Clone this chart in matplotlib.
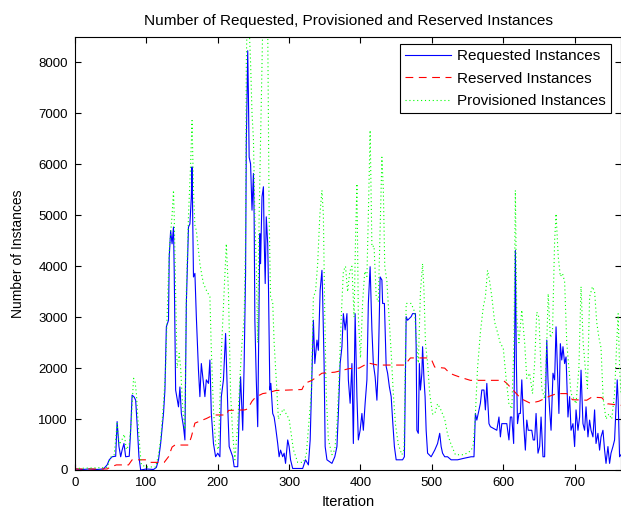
#!/usr/bin/env python3

import matplotlib
matplotlib.use('Agg')
import matplotlib.pyplot as plt

# values (iteration, instances)
req_iter = [0, 10, 20, 30, 40, 45, 48, 52, 57, 59, 61.6, 64, 66, 68.6, 71, 76, 78, 80, 83, 85, 87, 89.6, 92,
            100, 110, 114, 117, 120, 124, 126, 128, 131, 132, 134, 136, 138, 139, 141, 145, 147, 149, 152, 154,
            156, 159, 161, 163, 164, 166, 168, 170, 173, 175, 177, 180, 182, 184, 187, 189, 191, 194, 197, 200,
            203, 205, 208, 211, 214, 216, 221, 223, 228, 230, 232, 235, 237, 239, 240, 242, 243, 244, 246, 248,
            250, 251, 252, 254, 256, 257, 259, 260, 262, 264, 265, 266.5, 268, 270, 271, 273, 274.4, 277, 279,
            281, 284, 286, 288, 291, 293, 295, 298, 300, 302, 305, 319, 323, 327, 329.5, 332, 334, 336, 339, 341,
            343.5, 346, 347, 349, 350.5, 353, 360, 364, 367, 369, 371.5, 374, 376, 378.5, 381, 383, 385.5, 388,
            390, 392.5, 395, 397, 399.5, 402, 404, 406.5, 409, 411, 413.5, 416, 418, 420.5, 423, 425, 427.5, 430,
            431, 433.5, 436, 438, 440.5, 443, 445, 447.5, 450, 459, 461.5, 464, 466, 471, 473, 477, 478, 479, 481,
            482.5, 484, 486, 487, 489, 490.5, 492, 494, 499, 504, 508, 511, 513, 515, 518, 522, 527, 536, 545, 555,
            559, 561, 563, 568, 570, 573, 575, 577, 580, 582, 591, 594, 596, 598, 605, 608, 610, 612, 614.6, 616,
            617, 618.4, 620, 622, 624, 626, 628.6, 631, 633, 635, 640, 642, 644, 646, 648.7, 651, 653, 655.7, 658,
            660, 661, 662.7, 665, 667, 669.7, 672, 674, 676.7, 678, 680, 682, 683.7, 686, 688, 690.7, 693, 695,
            697.7, 700, 702, 704.7, 707, 709, 711.7, 714, 716, 718.7, 721, 723, 725.7, 728, 730, 732.7, 735, 737,
            739.7, 742, 744, 746.7, 749, 751, 753.7, 756, 758, 759.7, 761, 763, 765]
req_vals = [20, 10, 20, 10, 20, 100, 200, 260, 270, 950, 460, 260, 390, 520, 260, 270, 780, 1470, 1430, 1370, 910, 260, 0,
            20, 10, 50, 200, 520, 1110, 1570, 2810, 2940, 4180, 4700, 4440, 4770, 3920, 1570, 1240, 1630, 1110, 850, 590,
            3270, 4770, 4830, 5360, 5950, 3790, 3860, 3010, 1960, 1440, 2090, 1700, 1440, 1770, 1700, 2160, 1110, 520, 260, 330,
            260, 1440, 1770, 2680, 1240, 460, 260, 65, 65, 1110, 1830, 780, 2090, 3860, 6400, 8230, 7320, 6140, 6010, 5100,
            5820, 4970, 2940, 1770, 850, 2090, 4640, 4050, 5360, 5560, 4570, 3660, 4970, 4440, 3660, 1570, 1700, 1110, 1040,
            850, 520, 260, 390, 260, 330, 130, 590, 460, 200, 30, 30, 200, 100, 590, 1900, 2940, 2090, 2550, 2350,
            3530, 3920, 3400, 2090, 460, 200, 130, 260, 460, 1110, 2090, 2420, 3070, 2750, 3070, 1770, 1310, 2090,
            520, 3070, 1440, 590, 780, 1110, 780, 1310, 1770, 3270, 3990, 2750, 2090, 1830, 1370, 2090, 3790, 3730,
            3270, 3270, 2030, 1900, 1630, 1440, 980, 460, 200, 200, 260, 3010, 2940, 3010, 3070, 3070, 2420, 780, 720,
            2090, 1570, 1900, 2420, 1770, 1440, 780, 330, 260, 390, 520, 720, 460, 330, 260, 260, 200, 200, 230, 260,
            260, 1110, 980, 1310, 1570, 1570, 1180, 1700, 910, 850, 780, 1040, 650, 910, 910, 590, 1040, 1040, 520, 2480,
            4310, 2090, 910, 1110, 1110, 1770, 910, 390, 980, 780, 780, 590, 590, 1110, 330, 460, 1040, 260, 260,
            1900, 2550, 1770, 1180, 780, 1900, 1770, 2810, 1700, 1110, 2480, 2160, 2420, 2090, 2220, 1040, 1440, 780,
            910, 460, 1180, 780, 1040, 1960, 910, 780, 1240, 650, 980, 780, 650, 1180, 520, 720, 390, 650,
            780, 390, 130, 460, 130, 330, 460, 590, 1240, 1770, 1370, 260, 300]

res_iter = [0, 45, 50, 58, 75, 80, 100, 105, 125, 131, 136, 140, 159, 163, 168, 175, 184, 194, 212, 215, 238, 242,
            248, 253, 263, 272, 281, 318, 322, 332, 346, 364, 384, 398, 411, 424, 462, 470, 494, 500, 504, 518, 525,
            532, 540, 554, 600, 605, 615, 625, 638, 650, 665, 675, 689, 697, 717, 724, 738, 746, 765]
res_vals = [20, 20, 60, 100, 100, 200, 200, 150, 150, 260, 450, 490, 490, 650, 920, 960, 1010, 1080, 1080, 1170, 1180, 1200,
            1350, 1430, 1500, 1520, 1560, 1580, 1700, 1760, 1900, 1920, 1990, 2000, 2100, 2060, 2060, 2200, 2200, 2150, 2020, 2000, 1900,
            1860, 1820, 1760, 1760, 1700, 1550, 1400, 1310, 1350, 1450, 1500, 1500, 1380, 1370, 1430, 1420, 1300, 1270]

prov_iter = [0, 45, 50, 55, 59, 62, 66, 69, 72, 76, 79, 82, 84, 86, 89, 91, 93, 100, 113, 117, 120, 124, 127, 129, 132,
             136, 138, 139, 141, 143, 146, 148, 151, 154, 156, 159, 162, 164, 166, 168, 170, 173, 175, 178, 180, 184,
             189, 191, 194, 197, 201, 205, 209, 212, 215, 218, 221, 224, 228, 231, 234, 237, 239, 240, 241, 244, 246,
             248, 250, 252, 254, 256, 258, 260, 262, 263, 270, 272, 274, 277, 279, 282, 285, 288, 292, 296, 300, 303,
             306, 312, 320, 324, 328, 331, 334, 337, 340, 343, 346, 348, 350, 352, 355, 360, 364, 367, 370, 373, 376,
             379, 382, 385, 388, 391, 393, 395, 397, 400, 403, 406, 409, 411, 413.5, 416, 419, 422, 425, 428, 430, 432,
             434, 437, 440, 443, 446, 449, 453, 458, 461, 464, 468, 471, 476, 478, 481, 484, 487, 489, 491, 494, 497,
             501, 504, 508, 512, 515, 518, 522, 527, 533, 545, 555, 558, 561, 564, 568, 572, 575, 578, 581, 584, 588,
             592, 596, 600, 604, 608, 612, 615, 617, 619, 622, 626, 630, 633, 637, 641, 644, 647, 650, 654, 658, 661,
             663, 666, 669, 672, 674, 677, 680, 683, 686, 689, 692, 695, 699, 702, 706, 709, 712, 715, 718, 721, 725,
             728, 731, 734, 737, 740, 744, 748, 752, 756, 759, 761, 763, 765]
prov_vals = [30, 50, 250, 300, 910, 500, 600, 700, 400, 500, 1000, 1800, 1750, 1500, 800, 400, 100, 60, 60, 300, 600, 1300, 2000, 3000, 4300,
             5000, 5490, 5000, 3500, 2000, 2290, 2000, 1200, 800, 3500, 5000, 6000, 6860, 5500, 4800, 4700, 4300, 4050, 3800, 3660, 3530,
             3400, 2350, 1200, 500, 400, 2300, 3500, 4440, 3500, 1500, 700, 200, 900, 1800, 2500, 3000, 4500, 8000, 8700, 8700, 8000,
             7000, 6500, 5000, 4000, 2500, 5000, 6500, 8000, 8700, 8700, 5000, 3400, 3300, 2500, 1770, 1000, 1100, 1200, 1100, 1000, 700,
             400, 150, 150, 300, 1000, 1500, 3400, 3500, 4050, 5000, 5490, 5000, 3000, 1500, 600, 300, 400, 900, 1800, 3000, 3900,
             4000, 3500, 3900, 4000, 3000, 4500, 5620, 3000, 2200, 3300, 3900, 3800, 5000, 6670, 4380, 4400, 3400, 3300, 5000, 6140, 5500,
             4000, 3700, 3000, 2300, 1500, 900, 500, 300, 400, 3270, 3270, 3270, 3100, 2600, 2100, 3500, 4050, 3500, 2500, 2100, 1500,
             1100, 1100, 1300, 1200, 1100, 1000, 700, 500, 300, 300, 380, 500, 1100, 2000, 2700, 3200, 3400, 3920, 3700, 3400, 2900,
             2700, 2480, 2400, 1800, 1300, 1200, 2500, 5490, 3000, 2500, 3140, 2500, 1800, 1900, 1500, 2100, 3100, 3000, 1600, 1400, 2500,
             3460, 2600, 2700, 4500, 5030, 4200, 3800, 3860, 3700, 2500, 2000, 1500, 1400, 1300, 2000, 3600, 2500, 2000, 1600, 3400, 3600,
             3500, 2900, 2600, 2400, 1400, 1000, 1100, 1000, 1500, 2500, 3070, 2000, 1500]

x_ticks = [0, 100, 200, 300, 400, 500, 600, 700]
y_ticks = [0, 1000, 2000, 3000, 4000, 5000, 6000, 7000, 8000]

plt.rcParams['font.family'] = ['Liberation Sans', 'DejaVu Sans']
plt.rcParams['font.size'] = 9.5

fig = plt.figure(figsize=(6.21, 5.12), dpi=100)
ax = fig.add_axes([75 / 621, 42 / 512, 546 / 621, 433 / 512])

ax.plot(req_iter, req_vals, color='#0000ff', lw=0.8, label='Requested Instances')
ax.plot(res_iter, res_vals, color='#ff0000', lw=0.8, linestyle=(0, (7, 5)), label='Reserved Instances')
ax.plot(prov_iter, prov_vals, color='#00ff00', lw=0.8, linestyle=(0, (1, 2.5)), label='Provisioned Instances')

ax.set_xlim(0, 765)
ax.set_ylim(0, 8500)
ax.set_xticks(x_ticks)
ax.set_yticks(y_ticks)
ax.tick_params(direction='in', top=True, right=True, length=4, width=0.8, pad=5)
for s in ax.spines.values():
    s.set_linewidth(0.8)

ax.set_title('Number of Requested, Provisioned and Reserved Instances', fontsize=11.1, pad=9)
ax.set_xlabel('Iteration', fontsize=10.5, labelpad=4)
ax.set_ylabel('Number of Instances', fontsize=10, labelpad=10)

leg = ax.legend(loc='upper right', bbox_to_anchor=(0.982, 0.984), fancybox=False, framealpha=1,
                edgecolor='black', fontsize=11, handlelength=3.0, handletextpad=0.4,
                labelspacing=0.55, borderpad=0.35, borderaxespad=0)
leg.get_frame().set_linewidth(0.8)

plt.savefig('out.png', dpi=100)
